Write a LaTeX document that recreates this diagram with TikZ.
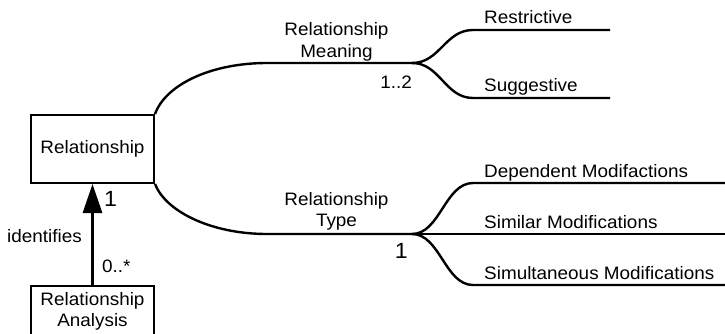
\documentclass[tikz,border=0pt]{standalone}
\usepackage{fontspec}
\setmainfont{Liberation Sans}[FakeStretch=1.05]
\usetikzlibrary{arrows.meta}

\begin{document}
\begin{tikzpicture}[x=1pt,y=1pt,font=\fontsize{18}{21.5}\selectfont,
    box/.style={draw,line width=2pt,minimum width=123pt,align=center},
    lbl/.style={inner sep=0pt},
    mult/.style={inner sep=0pt,font=\fontsize{22}{24}\selectfont},
    link/.style={line width=2.4pt}]
  \useasboundingbox (0,0) rectangle (725,333);
  % classes
  \node[box,minimum height=68pt] (rel) at (92.5,184) {Relationship};
  \node[box,anchor=north,inner ysep=6pt] (analysis) at (92.5,48) {Relationship\\Analysis};
  % branch points and free ends
  \coordinate (meaning) at (412,270);
  \coordinate (type) at (412,99);
  \coordinate (restrEnd) at (610,303);
  \coordinate (suggEnd) at (610,235);
  \coordinate (depEnd) at (725,150);
  \coordinate (simEnd) at (725,99);
  \coordinate (simulEnd) at (725,48);
  % association
  \draw[link] (rel.north east) .. controls (166,249) and (212,270) .. (267,270) -- (meaning);
  \draw[link] (rel.south east) .. controls (166,121) and (212,99) .. (267,99) -- (type);
  \draw[link] (meaning) .. controls (440,270) and (445,303) .. (473,303) -- (restrEnd);
  \draw[link] (meaning) .. controls (440,270) and (445,235) .. (473,235) -- (suggEnd);
  \draw[link] (type) .. controls (440,99) and (445,150) .. (473,150) -- (depEnd);
  \draw[link] (type) -- (simEnd);
  \draw[link] (type) .. controls (440,99) and (445,48) .. (473,48) -- (simulEnd);
  \draw[line width=3pt,-{Triangle[length=29pt,width=19pt]}] (analysis) -- (rel);
  % labels
  \node[lbl,align=center] (meaningLbl) at (336.5,291) {Relationship\\Meaning};
  \node[lbl,align=center] (typeLbl) at (336.5,121.5) {Relationship\\Type};
  \node[lbl,anchor=base east] (meaningMult) at (412,245) {1..2};
  \node[mult,anchor=base east] (typeMult) at (408,75) {1};
  \node[lbl,anchor=base west] (restr) at (484,309) {Restrictive};
  \node[lbl,anchor=base west] (sugg) at (484,242) {Suggestive};
  \node[lbl,anchor=base west] (dep) at (484,156) {Dependent Modifactions};
  \node[lbl,anchor=base west] (sim) at (484,105) {Similar Modifications};
  \node[lbl,anchor=base west] (simul) at (484,54) {Simultaneous Modifications};
  \node[mult,anchor=base west] (relMult) at (104,127) {1};
  \node[lbl,anchor=base] (ident) at (44.5,91) {identifies};
  \node[lbl,anchor=base west] (analysisMult) at (102,61) {0..*};
\end{tikzpicture}
\end{document}
